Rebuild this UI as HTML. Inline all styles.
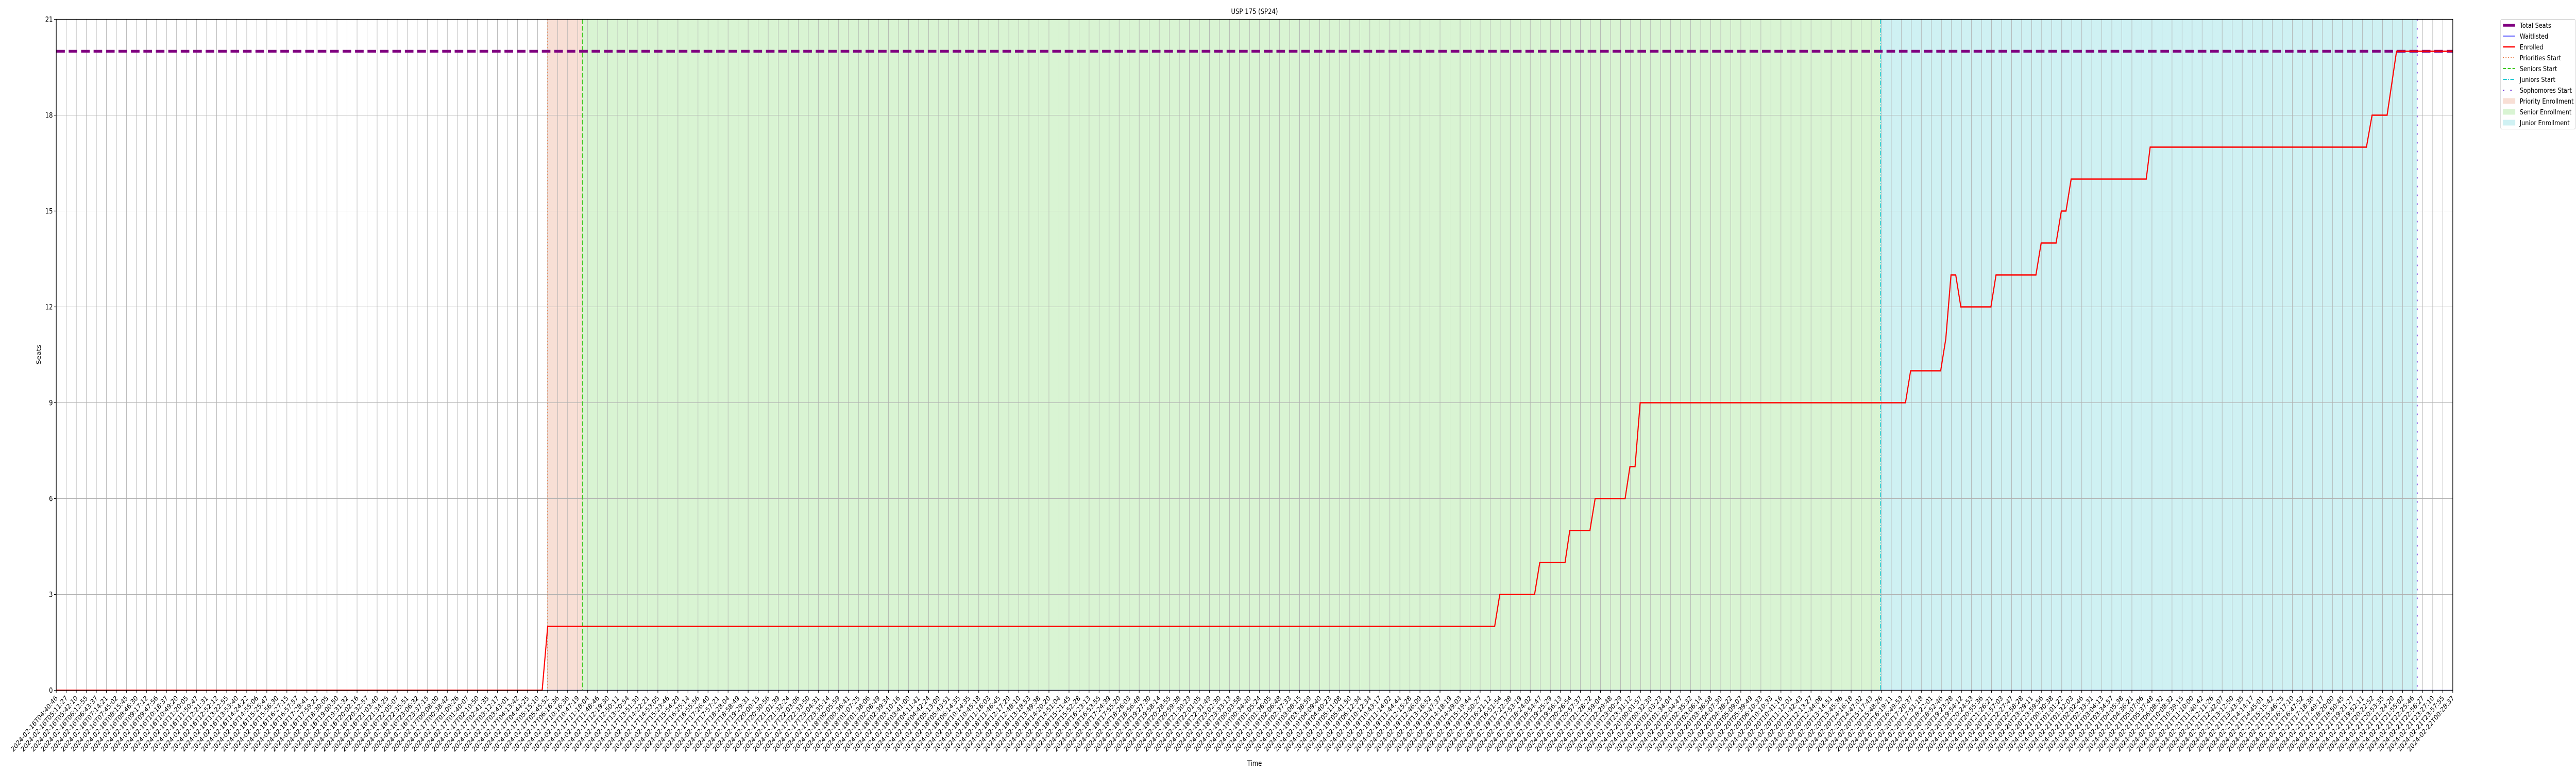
<!DOCTYPE html>
<html><head><meta charset="utf-8"><style>
html,body{margin:0;padding:0;background:#fff;width:100%;height:100%;overflow:hidden;}
svg{display:block;font-family:"DejaVu Sans","Liberation Sans",sans-serif;width:100vw;height:100vh;}
</style></head><body>
<svg id="chart" viewBox="0 0 6000 1500" preserveAspectRatio="none" xmlns="http://www.w3.org/2000/svg">
<rect width="6000" height="1500" fill="#fff"/>
<g id="bands"></g>
<g id="grid"></g>
<g id="vlines"></g>
<g id="series"></g>
<rect x="131" y="37.5" width="5582" height="1302" fill="none" stroke="#000" stroke-width="1.3"/>
<g id="ticks"></g>
<text x="2922" y="27" font-size="14" text-anchor="middle">USP 175 (SP24)</text>
<text x="2922" y="1486" font-size="14" text-anchor="middle">Time</text>
<text x="0" y="0" font-size="14" text-anchor="middle" transform="translate(95,688) rotate(-90)">Seats</text>
<g id="legend"></g>
</svg>
<script>
// ---- data ----
const totalSeats = 20;
const enrolledX = [0, 48.46, 49.01, 143.45, 143.96, 147.43, 147.95, 150.47, 150.94, 152.95, 153.47, 156.46, 156.94, 157.45, 157.96, 184.42, 184.93, 187.93, 188.44, 188.96, 189.43, 189.94, 192.94, 193.45, 197.43, 197.95, 199.44, 199.96, 200.43, 200.94, 208.43, 208.82, 230.39, 230.95, 232.45, 233.39, 239];
const enrolledY = [0, 0, 2, 2, 3, 3, 4, 4, 5, 5, 6, 6, 7, 7, 9, 9, 10, 10, 11, 13, 13, 12, 12, 13, 13, 14, 14, 15, 15, 16, 16, 17, 17, 18, 18, 20, 20];
const waitlistX = [0, 239];
const waitlistY = [0, 0];
const phaseNames = ["Priorities Start", "Seniors Start", "Juniors Start", "Sophomores Start"];
const phaseStarts = [49.01, 52.48, 181.94, 235.45];
const yTicks = [0, 3, 6, 9, 12, 15, 18, 21];
const tickCount = 240;
const startTime = "2024-02-16T04:40:46";

// ---- axes ----
const X0 = 131, X1 = 5713, Y0 = 1339.5, Y1 = 37.5;
const xMax = tickCount - 1, yMax = 21;
const sx = v => X0 + (X1 - X0) * v / xMax;
const sy = v => Y0 - (Y0 - Y1) * v / yMax;
const NS = "http://www.w3.org/2000/svg";
function mk(tag, attrs, parent) {
  const e = document.createElementNS(NS, tag);
  for (const k in attrs) e.setAttribute(k, attrs[k]);
  parent.appendChild(e);
  return e;
}
function pad(n) { return String(n).padStart(2, "0"); }

// tick labels
const tickLabels = [];
(function () {
  let t = new Date(startTime + "Z").getTime();
  const step = (30 * 60 + 41) * 1000;
  for (let i = 0; i < tickCount; i++) {
    const d = new Date(t);
    tickLabels.push(d.getUTCFullYear() + "-" + pad(d.getUTCMonth() + 1) + "-" + pad(d.getUTCDate()) + "T" + pad(d.getUTCHours()) + ":" + pad(d.getUTCMinutes()) + ":" + pad(d.getUTCSeconds()));
    t += step + ((i * 7) % 5) * 1000;
    const nd = new Date(t);
    const mins = nd.getUTCHours() * 60 + nd.getUTCMinutes();
    if (nd.getUTCDate() >= 17 && mins > 6 * 60 + 20 && mins < 10 * 60 + 10) {
      t += 4 * 3600 * 1000 - step;
    }
  }
})();

// bands
const bands = document.getElementById("bands");
const bandColors = ["#f8dfd5", "#d9f4d3", "#cff1f3"];
const bandNames = ["priority-enrollment-band", "senior-enrollment-band", "junior-enrollment-band"];
for (let i = 0; i < 3; i++) {
  const r = mk("rect", { x: sx(phaseStarts[i]), y: Y1, width: sx(phaseStarts[i + 1]) - sx(phaseStarts[i]), height: Y0 - Y1, fill: bandColors[i] }, bands);
  
  
}

// grid + ticks
const grid = document.getElementById("grid");
const ticks = document.getElementById("ticks");
for (let i = 0; i < tickCount; i++) {
  const x = sx(i);
  const g = mk("line", { x1: x, x2: x, y1: Y1, y2: Y0, stroke: "#b0b0b0", "stroke-width": 1 }, grid);
  
  
  mk("line", { x1: x, x2: x, y1: Y0, y2: Y0 + 5, stroke: "#000", "stroke-width": 1.2 }, ticks);
  const tl = mk("text", { x: 0, y: 0, "font-size": 13.5, "text-anchor": "end", transform: "translate(" + (x + 4) + "," + (Y0 + 16) + ") rotate(-45)" }, ticks);
  tl.textContent = tickLabels[i];
  
  
}
yTicks.forEach(v => {
  const y = sy(v);
  const g = mk("line", { x1: X0, x2: X1, y1: y, y2: y, stroke: "#b0b0b0", "stroke-width": 1 }, grid);
  
  
  mk("line", { x1: X0 - 5, x2: X0, y1: y, y2: y, stroke: "#000", "stroke-width": 1.2 }, ticks);
  const tl = mk("text", { x: X0 - 8, y: y + 5, "font-size": 13.9, "text-anchor": "end" }, ticks);
  tl.textContent = v;
  
  
});

// phase lines
const vlines = document.getElementById("vlines");
const phaseColors = ["#e8743b", "#3ec820", "#1ec8d2", "#6a2ad6"];
const phaseDash = ["2 4", "9 4", "9 3 2 3", "3 14"];
const phaseIds = ["priorities-start-line", "seniors-start-line", "juniors-start-line", "sophomores-start-line"];
for (let i = 0; i < 4; i++) {
  const x = sx(phaseStarts[i]);
  const l = mk("line", { x1: x, x2: x, y1: Y1, y2: Y0, stroke: phaseColors[i], "stroke-width": 2, "stroke-dasharray": phaseDash[i] }, vlines);
  
  
}

// series
const series = document.getElementById("series");
const ts = mk("line", { x1: X0, x2: X1, y1: sy(totalSeats), y2: sy(totalSeats), stroke: "#800080", "stroke-width": 5.5, "stroke-dasharray": "20 9" }, series);


const wl = mk("polyline", { points: waitlistX.map((v, i) => sx(v) + "," + sy(waitlistY[i])).join(" "), fill: "none", stroke: "#0000ff", "stroke-width": 1.3 }, series);


const en = mk("polyline", { points: enrolledX.map((v, i) => sx(v) + "," + sy(enrolledY[i])).join(" "), fill: "none", stroke: "#ff0000", "stroke-width": 2.6, "stroke-linejoin": "miter" }, series);



// legend
const lg = document.getElementById("legend");
mk("rect", { x: 5824.5, y: 37.5, width: 174, height: 213, rx: 3, fill: "#fff", stroke: "#cccccc", "stroke-width": 1 }, lg);
const entries = [
  ["Total Seats", "line", "#800080", 5.5, "none"],
  ["Waitlisted", "line", "#0000ff", 1.3, "none"],
  ["Enrolled", "line", "#ff0000", 2.6, "none"],
  ["Priorities Start", "line", phaseColors[0], 2, "2 4"],
  ["Seniors Start", "line", phaseColors[1], 2, "7 4"],
  ["Juniors Start", "line", phaseColors[2], 2, "9 3 2 3"],
  ["Sophomores Start", "line", phaseColors[3], 2, "3 14"],
  ["Priority Enrollment", "patch", bandColors[0]],
  ["Senior Enrollment", "patch", bandColors[1]],
  ["Junior Enrollment", "patch", bandColors[2]]
];
entries.forEach((e, i) => {
  const y = 49 + i * 21;
  let h;
  if (e[1] === "line") {
    h = mk("line", { x1: 5830, x2: 5858, y1: y, y2: y, stroke: e[2], "stroke-width": e[3], "stroke-dasharray": e[4] }, lg);
  } else {
    h = mk("rect", { x: 5830, y: y - 5, width: 28, height: 10, fill: e[2], stroke: e[2] }, lg);
  }
  
  
  const t = mk("text", { x: 5869, y: y + 5, "font-size": 13.5 }, lg);
  t.textContent = e[0];
  
  
});
</script>
</body></html>
